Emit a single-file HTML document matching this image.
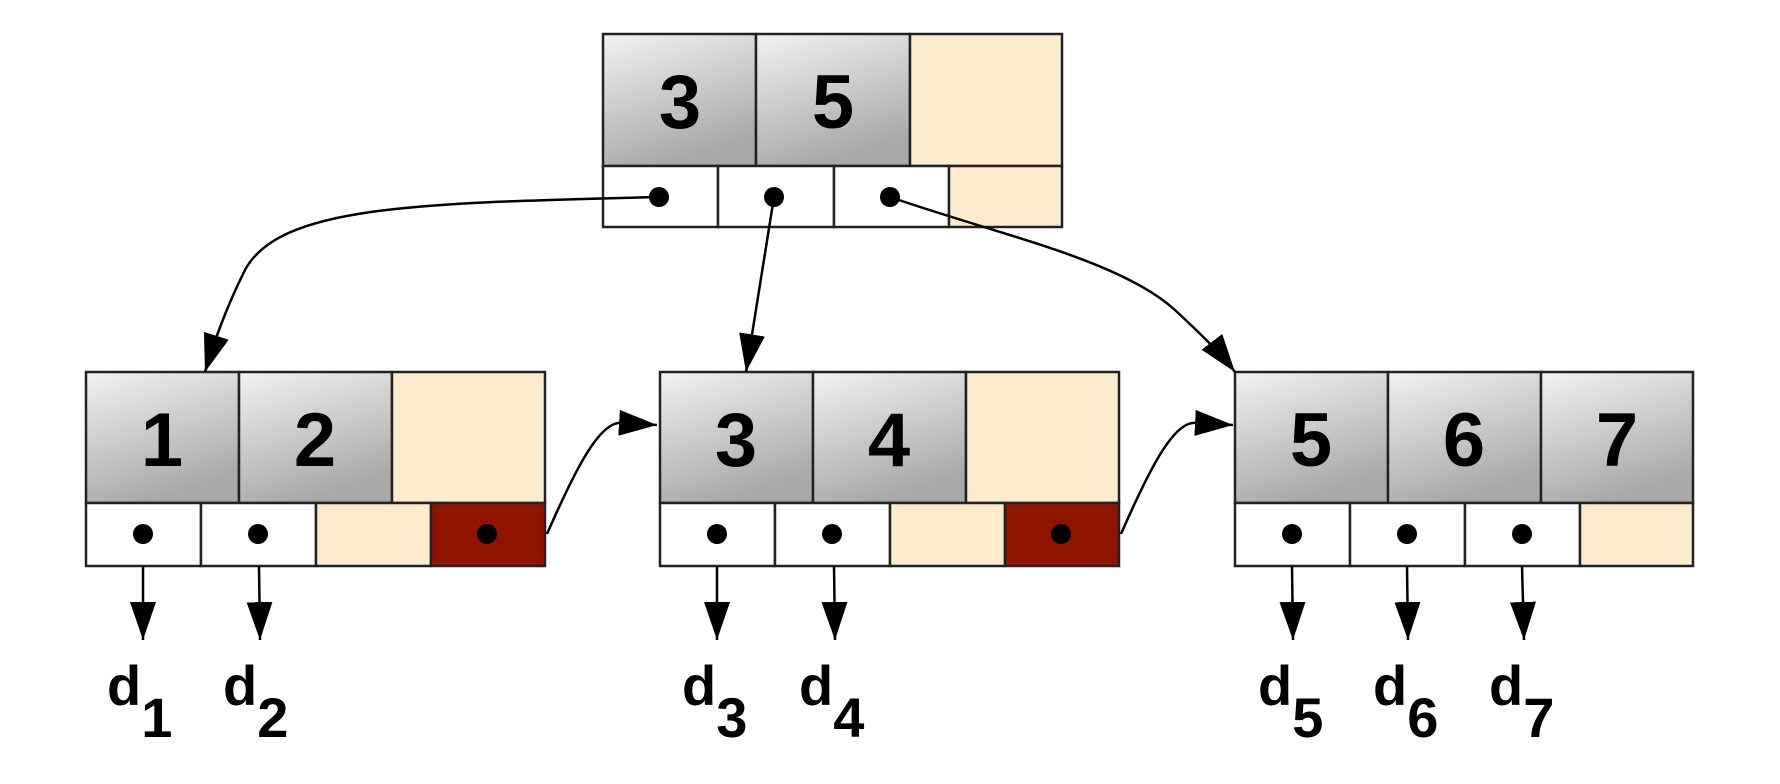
<!DOCTYPE html>
<html><head><meta charset="utf-8"><style>
html,body{margin:0;padding:0;background:#fff;}
svg{display:block;}
text{font-family:"Liberation Sans",sans-serif;font-weight:bold;fill:#000;}
</style></head><body>
<svg width="1780" height="784" viewBox="0 0 1780 784" xmlns="http://www.w3.org/2000/svg">
<defs>
<linearGradient id="g" x1="0" y1="0" x2="0.35" y2="1">
<stop offset="0" stop-color="#f2f2f2"/><stop offset="1" stop-color="#a9a9a9"/>
</linearGradient>
<marker id="ah" markerUnits="userSpaceOnUse" markerWidth="40" markerHeight="28" refX="38" refY="13" orient="auto">
<path d="M0,0 L38,13 L0,26 Z" fill="#000"/>
</marker>
</defs>

<!-- Root node -->
<g stroke="#222" stroke-width="2.5">
<rect x="603" y="34" width="153" height="132" fill="url(#g)"/>
<rect x="756" y="34" width="154" height="132" fill="url(#g)"/>
<rect x="910" y="34" width="152" height="132" fill="#fdebcd"/>
<rect x="603" y="166" width="115" height="61" fill="#fff"/>
<rect x="718" y="166" width="116" height="61" fill="#fff"/>
<rect x="834" y="166" width="115" height="61" fill="#fff"/>
<rect x="949" y="166" width="113" height="61" fill="#fdebcd"/>
</g>
<text x="680" y="128" font-size="76" text-anchor="middle">3</text>
<text x="833" y="128" font-size="76" text-anchor="middle">5</text>
<circle cx="659" cy="197" r="10"/><circle cx="774" cy="197" r="10"/><circle cx="890" cy="197" r="10"/>

<!-- Leaf nodes -->
<g id="leaf1" stroke="#222" stroke-width="2.5">
<rect x="86" y="372" width="153" height="131" fill="url(#g)"/>
<rect x="239" y="372" width="153" height="131" fill="url(#g)"/>
<rect x="392" y="372" width="153" height="131" fill="#fdebcd"/>
<rect x="86" y="503" width="115" height="63" fill="#fff"/>
<rect x="201" y="503" width="115" height="63" fill="#fff"/>
<rect x="316" y="503" width="115" height="63" fill="#fdebcd"/>
<rect x="431" y="503" width="114" height="63" fill="#8f1500"/>
</g>
<g stroke="#222" stroke-width="2.5">
<rect x="660" y="372" width="153" height="131" fill="url(#g)"/>
<rect x="813" y="372" width="153" height="131" fill="url(#g)"/>
<rect x="966" y="372" width="153" height="131" fill="#fdebcd"/>
<rect x="660" y="503" width="115" height="63" fill="#fff"/>
<rect x="775" y="503" width="115" height="63" fill="#fff"/>
<rect x="890" y="503" width="115" height="63" fill="#fdebcd"/>
<rect x="1005" y="503" width="114" height="63" fill="#8f1500"/>
</g>
<g stroke="#222" stroke-width="2.5">
<rect x="1235" y="372" width="153" height="131" fill="url(#g)"/>
<rect x="1388" y="372" width="153" height="131" fill="url(#g)"/>
<rect x="1541" y="372" width="152" height="131" fill="url(#g)"/>
<rect x="1235" y="503" width="115" height="63" fill="#fff"/>
<rect x="1350" y="503" width="115" height="63" fill="#fff"/>
<rect x="1465" y="503" width="115" height="63" fill="#fff"/>
<rect x="1580" y="503" width="113" height="63" fill="#fdebcd"/>
</g>
<g font-size="76" text-anchor="middle">
<text x="162" y="466">1</text><text x="315" y="466">2</text>
<text x="736" y="466">3</text><text x="889" y="466">4</text>
<text x="1311" y="466">5</text><text x="1464" y="466">6</text><text x="1617" y="466">7</text>
</g>
<g>
<circle cx="143" cy="534" r="10"/><circle cx="258" cy="534" r="10"/><circle cx="487" cy="534" r="10"/>
<circle cx="717" cy="534" r="10"/><circle cx="832" cy="534" r="10"/><circle cx="1061" cy="534" r="10"/>
<circle cx="1292" cy="534" r="10"/><circle cx="1407" cy="534" r="10"/><circle cx="1522" cy="534" r="10"/>
</g>

<!-- connectors -->
<g fill="none" stroke="#000" stroke-width="2.5" marker-end="url(#ah)">
<path d="M659,197 C420,203 280,205 245,270 C225,310 215,340 205,372"/>
<path d="M774,197 L746,372"/>
<path d="M890,197 C1000,235 1120,260 1175,310 C1205,338 1222,355 1235,372"/>
<path d="M547,534 C575,470 600,420 622,423 L657,425"/>
<path d="M1121,534 C1149,470 1174,420 1196,423 L1233,425"/>
<path d="M143,566 L143,640"/>
<path d="M259,566 L260,640"/>
<path d="M717,566 L717,640"/>
<path d="M834,566 L835,640"/>
<path d="M1292,566 L1293,640"/>
<path d="M1407,566 L1408,640"/>
<path d="M1522,566 L1524,640"/>
</g>

<!-- d labels -->
<g font-size="56">
<text x="107" y="705">d<tspan dy="32">1</tspan></text>
<text x="223" y="705">d<tspan dy="32">2</tspan></text>
<text x="682" y="705">d<tspan dy="32">3</tspan></text>
<text x="799" y="705">d<tspan dy="32">4</tspan></text>
<text x="1258" y="705">d<tspan dy="32">5</tspan></text>
<text x="1373" y="705">d<tspan dy="32">6</tspan></text>
<text x="1489" y="705">d<tspan dy="32">7</tspan></text>
</g>
</svg>
</body></html>
